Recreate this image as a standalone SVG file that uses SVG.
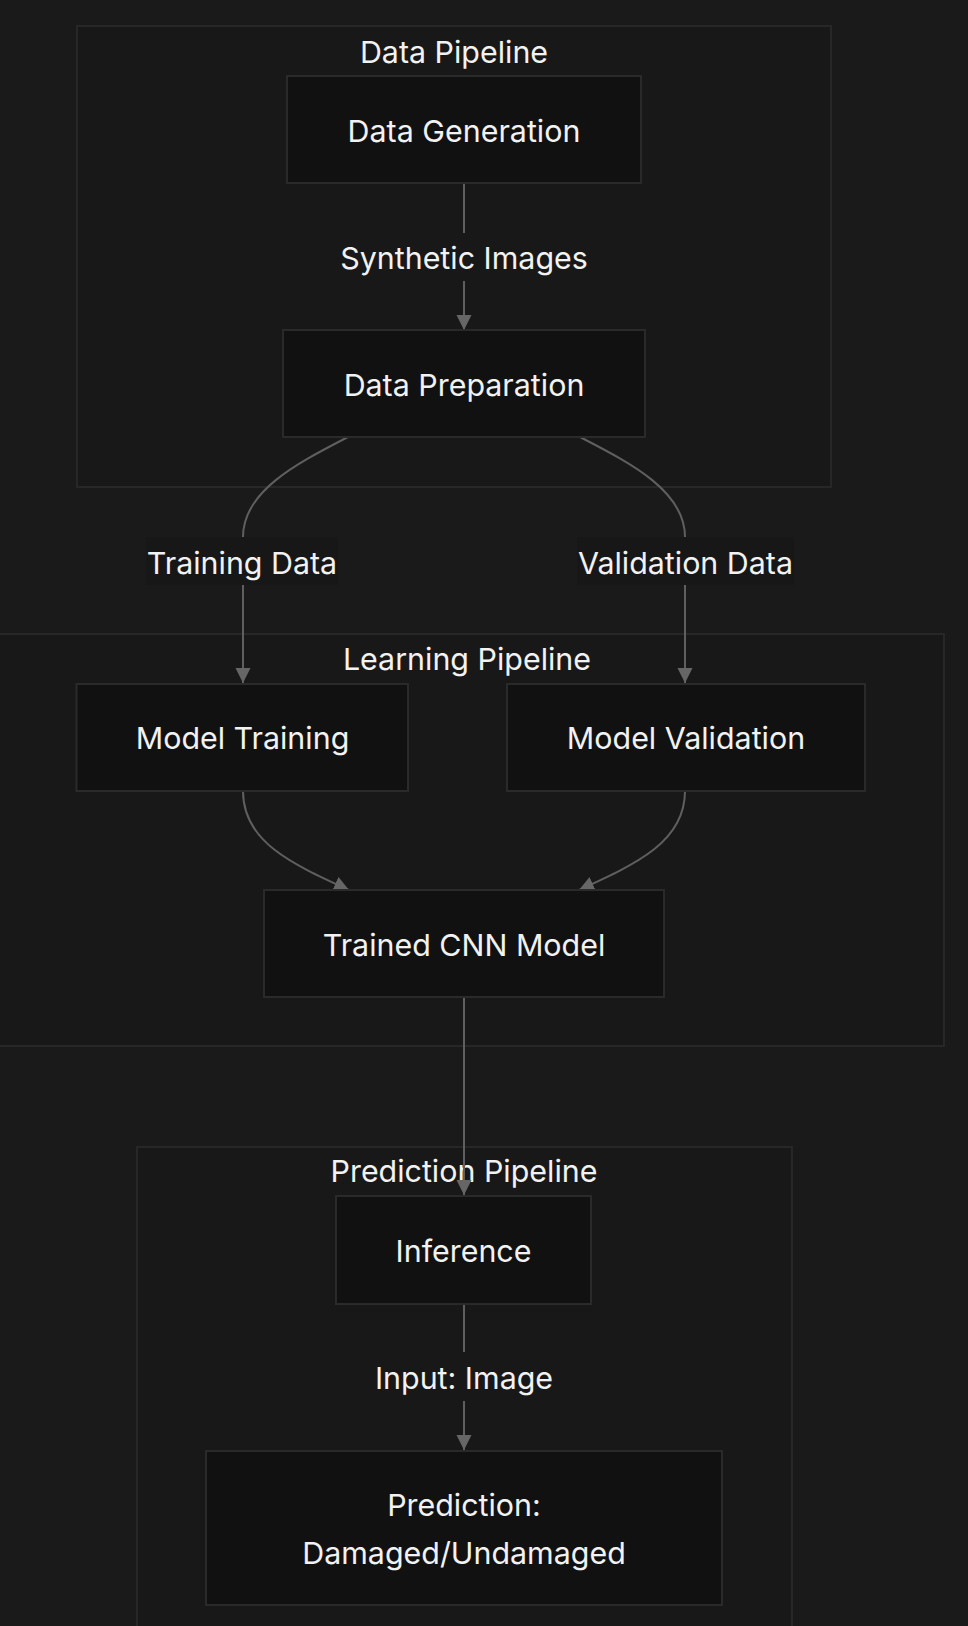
<svg xmlns="http://www.w3.org/2000/svg" width="968" height="1626" viewBox="0 0 968 1626">
<style>
  .bg { fill: #1a1a1a; }
  .cluster { fill: #181818; stroke: #272727; stroke-width: 2; }
  .node rect { fill: #111111; stroke: #2a2a2a; stroke-width: 2; }
  text { font-family: Inter, "Noto Sans", "Liberation Sans", sans-serif; font-size: 30.4px; fill: #f2f2f2; text-anchor: middle; }
  .edge { fill: none; stroke: #5f5f5f; stroke-width: 2; }
  .lblbg { fill: #171717; }
  .lblbg-in { fill: #181818; }
</style>
<defs>
  <marker id="arrow" markerUnits="userSpaceOnUse" markerWidth="16" markerHeight="16" refX="15" refY="7.5" orient="auto">
    <path d="M0,0 L15,7.5 L0,15 z" fill="#666666"/>
  </marker>
</defs>
<rect class="bg" x="0" y="0" width="968" height="1626"/>

<g id="clusters">
  <g id="cluster-data">
    <rect class="cluster" x="77" y="26" width="754" height="461"/>
    <text x="454" y="62.5">Data Pipeline</text>
  </g>
  <g id="cluster-learning">
    <rect class="cluster" x="-10" y="634" width="954" height="412"/>
    <text x="467" y="669.5">Learning Pipeline</text>
  </g>
  <g id="cluster-prediction">
    <rect class="cluster" x="137" y="1147" width="655" height="500"/>
    <text x="464" y="1182">Prediction Pipeline</text>
  </g>
</g>

<g id="edges">
  <path class="edge" d="M464,183 L464,330" marker-end="url(#arrow)"/>
  <path class="edge" d="M348,437 C300,462 243,490 243,537 L243,683" marker-end="url(#arrow)"/>
  <path class="edge" d="M580,437 C628,462 685,490 685,537 L685,683" marker-end="url(#arrow)"/>
  <path class="edge" d="M243,791 C243,842 292,864 349,890" marker-end="url(#arrow)"/>
  <path class="edge" d="M685,791 C685,842 636,864 579,890" marker-end="url(#arrow)"/>
  <path class="edge" d="M464,997 L464,1195" marker-end="url(#arrow)"/>
  <path class="edge" d="M464,1304 L464,1450" marker-end="url(#arrow)"/>
</g>

<g id="edge-labels">
  <g id="label-synthetic">
    <rect class="lblbg-in" x="339" y="233" width="250" height="48"/>
    <text x="464" y="268.5">Synthetic Images</text>
  </g>
  <g id="label-training">
    <rect class="lblbg" x="146" y="537" width="192" height="48"/>
    <text x="242" y="573.5">Training Data</text>
  </g>
  <g id="label-validation">
    <rect class="lblbg" x="577" y="537" width="217" height="48"/>
    <text x="685.5" y="573.5">Validation Data</text>
  </g>
  <g id="label-input">
    <rect class="lblbg-in" x="370" y="1352" width="188" height="49"/>
    <text x="464" y="1388.5">Input: Image</text>
  </g>
</g>

<g id="node-datagen" class="node">
  <rect x="287" y="76" width="354" height="107"/>
  <text x="464" y="142">Data Generation</text>
</g>
<g id="node-dataprep" class="node">
  <rect x="283" y="330" width="362" height="107"/>
  <text x="464" y="395.5">Data Preparation</text>
</g>
<g id="node-training" class="node">
  <rect x="76.5" y="684" width="331.5" height="107"/>
  <text x="242.5" y="749">Model Training</text>
</g>
<g id="node-validation" class="node">
  <rect x="507" y="684" width="358" height="107"/>
  <text x="686" y="749">Model Validation</text>
</g>
<g id="node-cnn" class="node">
  <rect x="264" y="890" width="400" height="107"/>
  <text x="464" y="956">Trained CNN Model</text>
</g>
<g id="node-inference" class="node">
  <rect x="336" y="1196" width="255" height="108"/>
  <text x="463.5" y="1261.5">Inference</text>
</g>
<g id="node-prediction" class="node">
  <rect x="206" y="1451" width="516" height="154"/>
  <text x="464" y="1516">Prediction:</text>
  <text x="464" y="1564">Damaged/Undamaged</text>
</g>
</svg>
